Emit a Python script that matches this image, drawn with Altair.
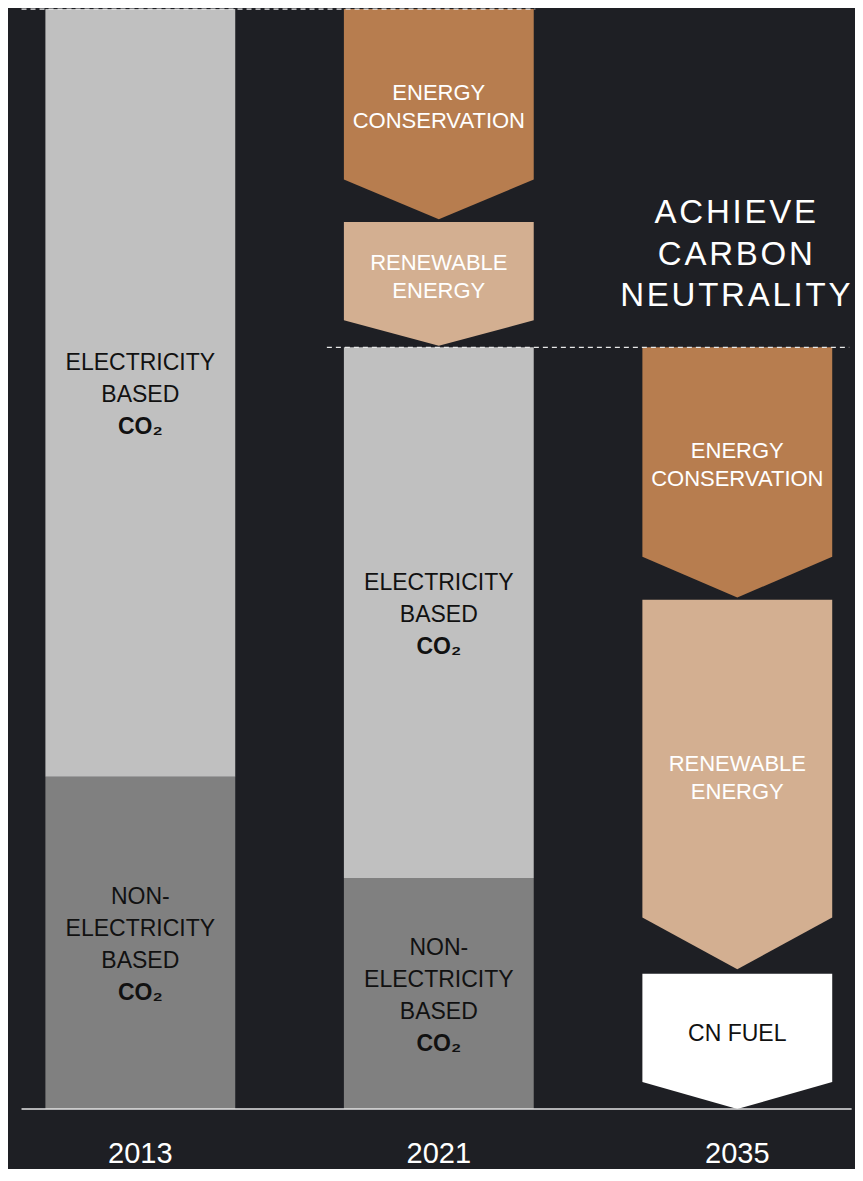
import altair as alt
import pandas as pd

# ---------------- data (2013 total = 100) ----------------
years = ["2013", "2021", "2035"]

seg_year = ["2013", "2013", "2021", "2021"]
seg_kind = ["nonelec", "elec", "nonelec", "elec"]
seg_bottom = [0.0, 30.2, 0.0, 21.0]
seg_top = [30.2, 100.0, 21.0, 69.25]

arrow_year = ["2021", "2021", "2035", "2035", "2035"]
arrow_kind = ["conservation", "renewable", "conservation", "renewable", "cnfuel"]
arrow_top = [100.0, 80.65, 69.25, 46.3, 12.3]
arrow_shoulder = [84.5, 71.7, 50.2, 17.4, 2.45]
arrow_tip = [80.9, 69.4, 46.5, 12.7, 0.0]

seg_lines = {"elec": ["ELECTRICITY", "BASED"], "nonelec": ["NON-", "ELECTRICITY", "BASED"]}
seg_bold = "CO₂"
arrow_lines = {
    "conservation": ["ENERGY", "CONSERVATION"],
    "renewable": ["RENEWABLE", "ENERGY"],
    "cnfuel": ["CN FUEL"],
}
title_lines = ["ACHIEVE", "CARBON", "NEUTRALITY"]

# ---------------- styling ----------------
BG = "#1e1f24"
FONT = "Liberation Sans"
kinds = ["elec", "nonelec", "conservation", "renewable", "cnfuel"]
kind_colors = ["#c0c0c0", "#808080", "#b77d4f", "#d3af91", "#ffffff"]
HW = 0.318  # half bar width in x units
LH = 32     # line height of bar labels
ALH = 28    # line height of arrow labels

W, H = 847, 1101
xs = alt.Scale(domain=[-0.4433, 2.3943], nice=False, zero=False)
ys = alt.Scale(domain=[0, 100.1], nice=False, zero=False)
fill_scale = alt.Scale(domain=kinds, range=kind_colors)


def xi(y):
    return years.index(y)


# segments
seg = pd.DataFrame({"year": seg_year, "kind": seg_kind, "bottom": seg_bottom, "top": seg_top})
seg["c"] = seg["year"].map(xi)
seg["x"] = seg["c"] - HW
seg["x2"] = seg["c"] + HW
seg["mid"] = (seg["bottom"] + seg["top"]) / 2
seg["label"] = seg["kind"].map(lambda k: "\n".join(seg_lines[k]))
seg["bold"] = seg_bold

# arrows (chevrons as areas: flat top, pointed bottom)
rows = []
for i, (yr, k, t, s, tp) in enumerate(zip(arrow_year, arrow_kind, arrow_top, arrow_shoulder, arrow_tip)):
    c = xi(yr)
    rows.append(dict(aid=i, kind=k, x=c - HW, top=t, bot=s))
    rows.append(dict(aid=i, kind=k, x=c, top=t, bot=tp))
    rows.append(dict(aid=i, kind=k, x=c + HW, top=t, bot=s))
arr = pd.DataFrame(rows)

arr_lab = pd.DataFrame({"year": arrow_year, "kind": arrow_kind, "top": arrow_top, "tip": arrow_tip})
arr_lab["x"] = arr_lab["year"].map(xi)
arr_lab["mid"] = (arr_lab["top"] + arr_lab["tip"]) / 2
arr_lab["label"] = arr_lab["kind"].map(lambda k: "\n".join(arrow_lines[k]))

# dashed reference lines at the totals of 2013 and 2021
dash = pd.DataFrame({
    "y": [seg_top[1], seg_top[3]],
    "x": [xi("2013") - HW - 0.08, xi("2021") - HW - 0.057],
    "x2": [xi("2021") + HW + 0.005, xi("2035") + HW + 0.057],
})
base = pd.DataFrame({"y": [0.0], "x": [xi("2013") - HW - 0.08], "x2": [xi("2035") + HW + 0.065]})
yr_df = pd.DataFrame({"year": years, "x": [xi(y) for y in years], "y": [0.0] * 3})


def X(f):
    return alt.X(f, scale=xs, axis=None)


def Y(f):
    return alt.Y(f, scale=ys, axis=None, stack=None)


rects = alt.Chart(seg).mark_rect().encode(
    x=X("x:Q"), x2="x2:Q", y=Y("bottom:Q"), y2="top:Q",
    fill=alt.Fill("kind:N", scale=fill_scale, legend=None),
)

areas = alt.Chart(arr).mark_area(interpolate="linear", orient="vertical").encode(
    x=X("x:Q"), y=Y("top:Q"), y2="bot:Q",
    fill=alt.Fill("kind:N", scale=fill_scale, legend=None),
    detail="aid:N",
)


# bar labels: block of n_normal + 1 lines centred at mid + 2 px, last line bold
def bar_label_layers(kind, n_normal):
    n = n_normal + 1
    first = 2 - (n - 1) * LH / 2
    last = 2 + (n - 1) * LH / 2
    src = alt.Chart(seg).transform_filter(f"datum.kind == '{kind}'")
    normal = src.mark_text(
        font=FONT, fontSize=23, color="#111111", lineBreak="\n", lineHeight=LH,
        baseline="middle", dy=first,
    ).encode(x=X("c:Q"), y=Y("mid:Q"), text="label:N")
    bold = src.mark_text(
        font=FONT, fontSize=23, fontWeight="bold", color="#111111", baseline="middle", dy=last,
    ).encode(x=X("c:Q"), y=Y("mid:Q"), text="bold:N")
    return [normal, bold]


def arrow_label_layer(cond, n_lines, color, size):
    first = -7 - (n_lines - 1) * ALH / 2
    return alt.Chart(arr_lab).transform_filter(cond).mark_text(
        font=FONT, fontSize=size, color=color, lineBreak="\n", lineHeight=ALH,
        baseline="middle", dy=first,
    ).encode(x=X("x:Q"), y=Y("mid:Q"), text="label:N")


dashes = alt.Chart(dash).mark_rule(color="#e8e8e8", strokeWidth=1.3, strokeDash=[5, 4]).encode(
    x=X("x:Q"), x2="x2:Q", y=Y("y:Q")
)
baseline = alt.Chart(base).mark_rule(color="#e4e4e4", strokeWidth=1.5).encode(
    x=X("x:Q"), x2="x2:Q", y=Y("y:Q")
)
year_text = alt.Chart(yr_df).mark_text(
    font=FONT, fontSize=29, color="#ffffff", baseline="middle", dy=45
).encode(x=X("x:Q"), y=Y("y:Q"), text="year:N")

title_df = pd.DataFrame({"x": [xi("2035")], "t": ["\n".join("\u200a".join(w) for w in title_lines)]})
title = alt.Chart(title_df).mark_text(
    font=FONT, fontSize=33, color="#ffffff", lineBreak="\n", lineHeight=41.5, baseline="middle", dx=-2
).encode(x=X("x:Q"), y=alt.value(205), text="t:N")

layers = [rects, areas]
layers += bar_label_layers("elec", 2)
layers += bar_label_layers("nonelec", 3)
layers += [
    arrow_label_layer("datum.kind != 'cnfuel'", 2, "#ffffff", 22),
    arrow_label_layer("datum.kind == 'cnfuel'", 1, "#111111", 23),
    dashes, baseline, year_text, title,
]

chart = alt.layer(*layers).properties(
    width=W, height=H,
    autosize=alt.AutoSizeParams(type="none"),
    padding={"left": 0, "top": 0, "right": 0, "bottom": 60},
    background=BG,
).configure_view(stroke=None)

chart.save("out.html", embed_options={"renderer": "svg", "actions": False})
